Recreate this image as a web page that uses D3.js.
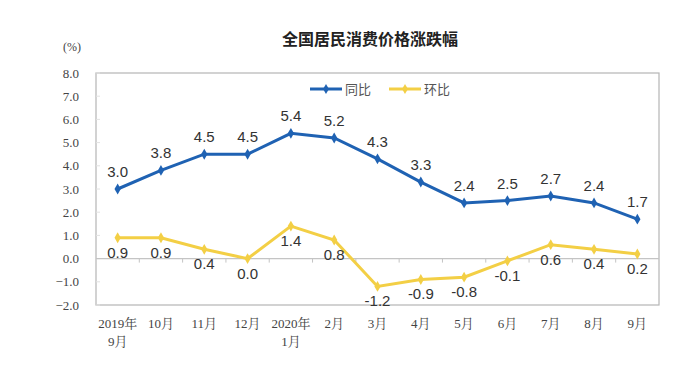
<!DOCTYPE html>
<html><head><meta charset="utf-8">
<script src="https://cdn.jsdelivr.net/npm/d3@7"></script>
<style>body{margin:0;background:#fff;}svg{display:block;}</style>
</head><body>
<svg id="c" width="700" height="366"></svg>
<script>
const categories = ["2019年|9月","10月","11月","12月","2020年|1月","2月","3月","4月","5月","6月","7月","8月","9月"];
const yoy = [3.0,3.8,4.5,4.5,5.4,5.2,4.3,3.3,2.4,2.5,2.7,2.4,1.7];
const mom = [0.9,0.9,0.4,0.0,1.4,0.8,-1.2,-0.9,-0.8,-0.1,0.6,0.4,0.2];
const yTicks = [-2,-1,0,1,2,3,4,5,6,7,8];
const seriesNames = ["同比","环比"];

const svg = d3.select("#c");
const L=96,R=659,T=73,B=305;
const blue="#1f62b3", yellow="#f3cf45";
const serif = "'Liberation Serif','Times New Roman','Noto Serif CJK SC','Noto Sans CJK SC',serif";
const sans = "'Liberation Sans',Arial,'Noto Sans CJK SC',sans-serif";

const x = d3.scaleBand().domain(categories).range([L,R]);
const y = d3.scaleLinear().domain([-2,8]).range([B,T]);
const cx = c => x(c)+x.bandwidth()/2;

svg.append("text").attr("x",370).attr("y",45).attr("text-anchor","middle")
  .attr("font-family","'Noto Sans CJK SC',sans-serif").attr("font-weight","bold")
  .attr("font-size",16).attr("fill","#222").text("全国居民消费价格涨跌幅");

// frame
svg.append("rect").attr("x",L).attr("y",T).attr("width",R-L).attr("height",B-T)
  .attr("fill","none").attr("stroke","#b5b5b5").attr("stroke-width",1.2);

// y axis
const ya = svg.append("g").attr("transform",`translate(${L},0)`)
  .call(d3.axisLeft(y).tickValues(yTicks).tickFormat(d3.format(".1f")).tickSize(0).tickPadding(17));
ya.select(".domain").remove();
ya.selectAll("text").attr("font-family",serif).attr("font-size",13).attr("fill","#444");
svg.append("g").selectAll("line").data(yTicks).join("line")
  .attr("x1",L).attr("x2",L+4).attr("y1",d=>y(d)).attr("y2",d=>y(d)).attr("stroke","#e2e2e2");
svg.append("text").attr("x",72).attr("y",51).attr("text-anchor","middle")
  .attr("font-family",serif).attr("font-size",12).attr("fill","#444").text("(%)");

// zero line with ticks
svg.append("line").attr("x1",L).attr("x2",R).attr("y1",y(0)).attr("y2",y(0)).attr("stroke","#c4c4c4").attr("stroke-width",1.2);
svg.append("g").selectAll("line").data(categories.slice(1)).join("line")
  .attr("x1",d=>x(d)).attr("x2",d=>x(d)).attr("y1",y(0)).attr("y2",y(0)+4).attr("stroke","#c4c4c4");

// x labels
const xl = svg.append("g").selectAll("text").data(categories).join("text")
  .attr("x",d=>cx(d)).attr("y",328).attr("text-anchor","middle")
  .attr("font-family",serif).attr("font-size",13).attr("fill","#444");
xl.each(function(d){
  const parts=d.split("|"); const t=d3.select(this);
  parts.forEach((p,i)=>t.append("tspan").attr("x",cx(d)).attr("dy",i?18:0).text(p));
});

const line = d3.line().x((d,i)=>cx(categories[i])).y(d=>y(d));
function drawSeries(vals,color,labelDy){
  svg.append("path").datum(vals).attr("d",line).attr("fill","none").attr("stroke",color).attr("stroke-width",3);
  svg.append("g").selectAll("path").data(vals).join("path")
    .attr("d",d3.symbol(d3.symbolDiamond,34)).attr("fill",color)
    .attr("transform",(d,i)=>`translate(${cx(categories[i])},${y(d)})`);
  svg.append("g").selectAll("text").data(vals).join("text")
    .attr("x",(d,i)=>cx(categories[i])).attr("y",d=>y(d)+labelDy).attr("text-anchor","middle")
    .attr("font-family",sans).attr("font-size",15).attr("fill","#333").text(d=>d.toFixed(1));
}
drawSeries(mom,yellow,20);
drawSeries(yoy,blue,-12);

// legend
const lg = svg.append("g");
[[310,blue,seriesNames[0]],[389,yellow,seriesNames[1]]].forEach(([lx,c,n])=>{
  lg.append("line").attr("x1",lx).attr("x2",lx+32).attr("y1",89).attr("y2",89).attr("stroke",c).attr("stroke-width",3);
  lg.append("path").attr("d",d3.symbol(d3.symbolDiamond,30)).attr("fill",c).attr("transform",`translate(${lx+16},89)`);
  lg.append("text").attr("x",lx+35).attr("y",94).attr("font-family","'Noto Sans CJK SC',sans-serif")
    .attr("font-size",13).attr("fill","#555").text(n);
});
</script>
</body></html>
